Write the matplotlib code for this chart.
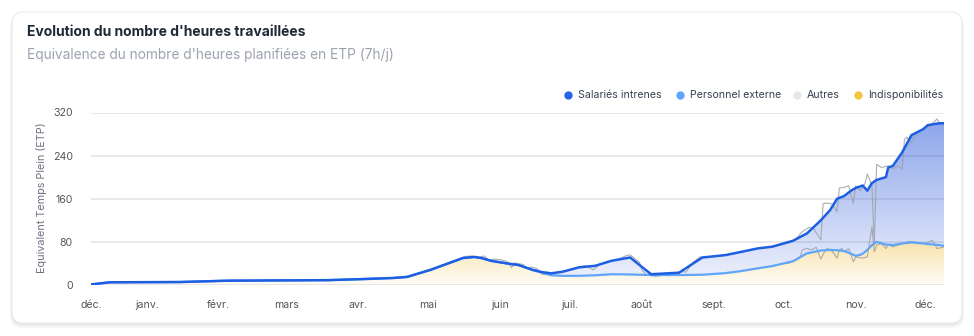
import numpy as np
import pandas as pd
import matplotlib
matplotlib.use("Agg")
import matplotlib.pyplot as plt
import matplotlib.dates as mdates
from matplotlib.patches import FancyBboxPatch, PathPatch

plt.rcParams['font.family'] = ['Inter', 'DejaVu Sans']

# ---------------- data ----------------
smooth_dates = [
    "2023-12-08", "2023-12-16", "2024-01-15", "2024-02-05", "2024-03-19", "2024-04-03",
    "2024-04-16", "2024-04-22", "2024-05-02", "2024-05-09", "2024-05-16", "2024-05-21",
    "2024-05-24", "2024-05-28", "2024-06-04", "2024-06-09", "2024-06-15", "2024-06-19",
    "2024-06-23", "2024-06-28", "2024-07-05", "2024-07-12", "2024-07-19", "2024-07-27",
    "2024-07-31", "2024-08-05", "2024-08-17", "2024-08-27", "2024-09-06", "2024-09-13",
    "2024-09-20", "2024-09-26", "2024-10-05", "2024-10-11", "2024-10-17", "2024-10-21",
    "2024-10-24", "2024-10-27", "2024-10-30", "2024-11-01", "2024-11-03", "2024-11-04",
    "2024-11-06", "2024-11-08", "2024-11-10", "2024-11-14", "2024-11-15", "2024-11-17",
    "2024-11-21", "2024-11-25", "2024-11-30", "2024-12-02", "2024-12-07", "2024-12-09",
]
salaries_internes = [
    1, 5, 5.5, 8, 9, 11,
    13, 15, 28, 39, 50, 52,
    50, 45, 40, 37, 28, 24,
    21.6, 24.7, 32.7, 35.7, 45, 51,
    37, 20, 22.8, 51, 55.5, 61.7,
    68, 71, 82, 95.6, 120, 139,
    160, 165, 175, 180, 183, 184.6,
    175, 189, 195, 200, 218, 221,
    246, 278, 289, 296.5, 300, 300,
]
personnel_externe = [
    1, 5, 5.5, 8, 9, 11,
    13, 15, 28, 39, 50, 52,
    50, 45, 40, 37, 28, 23,
    18, 17, 17, 18, 20, 19.5,
    19, 18.5, 18.5, 19, 22, 26,
    31, 35, 44, 58.6, 64, 65,
    64.5, 63, 58, 54, 56, 58,
    65, 74, 80, 75, 75, 74,
    77, 79, 77, 76, 74, 72.6,
]

autres_dates = [
    "2024-05-09", "2024-05-14", "2024-05-17", "2024-05-20", "2024-05-22", "2024-05-25",
    "2024-05-27", "2024-05-30", "2024-06-01", "2024-06-04", "2024-06-06", "2024-06-07",
    "2024-06-11", "2024-06-12", "2024-06-15", "2024-06-17", "2024-06-19", "2024-06-22",
    "2024-06-25", "2024-06-29", "2024-07-05", "2024-07-08", "2024-07-11", "2024-07-14",
    "2024-07-18", "2024-07-22", "2024-07-25", "2024-07-27", "2024-07-31", "2024-08-01",
    "2024-08-03", "2024-08-07", "2024-08-13", "2024-08-18", "2024-08-20", "2024-08-23",
    "2024-08-26", "2024-08-30", "2024-09-06", "2024-09-13", "2024-09-20", "2024-09-27",
    "2024-10-03", "2024-10-06", "2024-10-09", "2024-10-12", "2024-10-14", "2024-10-17",
    "2024-10-18", "2024-10-20", "2024-10-22", "2024-10-24", "2024-10-25", "2024-10-27",
    "2024-10-29", "2024-10-31", "2024-11-01", "2024-11-03", "2024-11-05", "2024-11-06",
    "2024-11-08", "2024-11-09", "2024-11-10", "2024-11-12", "2024-11-15", "2024-11-17",
    "2024-11-19", "2024-11-21", "2024-11-22", "2024-11-23", "2024-11-25", "2024-11-27",
    "2024-11-30", "2024-12-03", "2024-12-06", "2024-12-07", "2024-12-09",
]
autres = [
    39, 48, 53, 54, 49.6, 54,
    47, 48, 47, 44, 32, 41,
    38, 32, 33, 30, 20, 19,
    23, 26, 34, 36, 28, 38,
    43, 48, 54, 56, 42, 28,
    19, 16, 20, 25, 24, 42,
    52, 52, 55, 61, 68, 71,
    78, 84, 99, 107, 104, 84,
    151, 152, 150, 136, 180, 181,
    184, 151, 184, 175, 188, 206,
    184, 74, 224, 218, 221, 215,
    221, 215, 270, 274, 264, 280,
    289, 295, 308, 301, 298,
]

indispo_dates = [
    "2024-10-03", "2024-10-08", "2024-10-09", "2024-10-11", "2024-10-13", "2024-10-15",
    "2024-10-17", "2024-10-19", "2024-10-20", "2024-10-22", "2024-10-24", "2024-10-25",
    "2024-10-26", "2024-10-27", "2024-10-29", "2024-10-31", "2024-11-01", "2024-11-04",
    "2024-11-06", "2024-11-08", "2024-11-09", "2024-11-10", "2024-11-12", "2024-11-14",
    "2024-11-15", "2024-11-17", "2024-11-21", "2024-11-24", "2024-11-27", "2024-12-01",
    "2024-12-04", "2024-12-06", "2024-12-09",
]
indisponibilites = [
    40, 50, 65, 68, 65, 70,
    48, 65, 68, 62, 50, 65,
    68, 62, 67.6, 43, 52, 50,
    52, 108, 61.5, 74, 77, 67.6,
    75, 70.7, 77, 81, 78.7, 77,
    83, 67.6, 70.7,
]

month_labels = ["déc.", "janv.", "févr.", "mars", "avr.", "mai", "juin",
                "juil.", "août", "sept.", "oct.", "nov.", "déc."]
tick_dates = ["2023-12-08", "2024-01-01", "2024-02-01", "2024-03-01", "2024-04-01",
              "2024-05-01", "2024-06-01", "2024-07-01", "2024-08-01", "2024-09-01",
              "2024-10-01", "2024-11-01", "2024-12-01"]
y_ticks = [0, 80, 160, 240, 320]

legend_labels = ["Salariés intrenes", "Personnel externe", "Autres", "Indisponibilités"]
legend_colors = ["#2563eb", "#60a5fa", "#e5e7eb", "#f4c542"]

# ---------------- figure ----------------
W, H = 974, 336
fig = plt.figure(figsize=(W / 100, H / 100), dpi=100)
fig.patch.set_facecolor("white")

bg = fig.add_axes([0, 0, 1, 1], zorder=0)
bg.set_xlim(0, W)
bg.set_ylim(H, 0)
bg.axis("off")

# card shadow + card
for i, a in enumerate([0.035, 0.03, 0.025, 0.02]):
    g = i + 1
    bg.add_patch(FancyBboxPatch((12 - g * 0.5, 12 + g * 0.8), 950 + g, 311 + g * 0.6,
                                boxstyle="round,pad=0,rounding_size=12",
                                facecolor=(0, 0, 0, a), edgecolor="none"))
bg.add_patch(FancyBboxPatch((12, 12), 950, 311, boxstyle="round,pad=0,rounding_size=11",
                            facecolor="white", edgecolor="#ececee", linewidth=0.8))

bg.text(27, 32, "Evolution du nombre d'heures travaillées", fontsize=10, fontweight="bold",
        color="#1f2937", va="center", ha="left")
bg.text(27, 55, "Equivalence du nombre d'heures planifiées en ETP (7h/j)", fontsize=9.9,
        color="#9ca3af", va="center", ha="left")

leg_x = [568, 680, 797, 858]
for xx, lab, col in zip(leg_x, legend_labels, legend_colors):
    bg.plot([xx], [95], marker="o", markersize=6, color=col, markeredgewidth=0)
    bg.text(xx + 10, 95, lab, fontsize=7.6, color="#374151", va="center", ha="left")

bg.text(42, 198, "Equivalent Temps Plein (ETP)", fontsize=7.8, color="#6b7280",
        rotation=90, va="center", ha="center")

# ---------------- main axes ----------------
ax = fig.add_axes([91 / W, 1 - 285 / H, 853 / W, (285 - 112.5) / H], zorder=2)
ax.set_facecolor("none")

xs = mdates.date2num(pd.to_datetime(smooth_dates))
top = np.array(salaries_internes, dtype=float)
ext = np.array(personnel_externe, dtype=float)
xa = mdates.date2num(pd.to_datetime(autres_dates))
xi = mdates.date2num(pd.to_datetime(indispo_dates))

x0, x1 = xs[0], xs[-1]
YMAX = 320


def gradient_fill(xv, lo, hi, rgb, alpha_fn, z):
    coll = ax.fill_between(xv, lo, hi, facecolor="none", edgecolor="none")
    path = coll.get_paths()[0]
    patch = PathPatch(path, transform=ax.transData, facecolor="none", edgecolor="none")
    ax.add_patch(patch)
    yy = np.linspace(0, YMAX, 400)
    arr = np.zeros((400, 1, 4))
    arr[:, 0, 0] = rgb[0]
    arr[:, 0, 1] = rgb[1]
    arr[:, 0, 2] = rgb[2]
    arr[:, 0, 3] = alpha_fn(yy)
    im = ax.imshow(arr, extent=[x0, x1, 0, YMAX], origin="lower", aspect="auto",
                   zorder=z, interpolation="bilinear")
    im.set_clip_path(patch)


# yellow (Indisponibilités) gradient
gradient_fill(xs, np.zeros_like(ext), ext, (240 / 255, 190 / 255, 60 / 255),
              lambda v: 0.04 + 0.44 * np.clip(v / 90, 0, 1), 1)
# blue gradient between externe and salariés
gradient_fill(xs, ext, top, (29 / 255, 78 / 255, 216 / 255),
              lambda v: 0.07 + 0.46 * (v / YMAX), 1.1)

# grid
for yv in y_ticks:
    ax.axhline(yv, color="#e3e3e6", linewidth=1.1, zorder=0.5)

ax.plot(xi, indisponibilites, color="#9ea0a8", linewidth=0.8, alpha=0.85, zorder=2)
ax.plot(xa, autres, color="#9ea0a8", linewidth=0.8, alpha=0.85, zorder=2)
ax.plot(xs, ext, color="#60a5fa", linewidth=1.6, zorder=3, solid_joinstyle="round")
ax.plot(xs, top, color="#1d5fe3", linewidth=1.8, zorder=4, solid_joinstyle="round")

ax.set_xlim(x0, x1)
ax.set_ylim(0, YMAX)
ax.set_yticks(y_ticks)
ax.set_yticklabels([str(v) for v in y_ticks])
ax.set_xticks(mdates.date2num(pd.to_datetime(tick_dates)))
ax.set_xticklabels(month_labels)
ax.tick_params(axis="both", length=0, labelsize=7.6, labelcolor="#555555")
ax.tick_params(axis="y", pad=13)
ax.tick_params(axis="x", pad=11)
for s in ax.spines.values():
    s.set_visible(False)

fig.savefig("out.png", dpi=100, facecolor="white")
